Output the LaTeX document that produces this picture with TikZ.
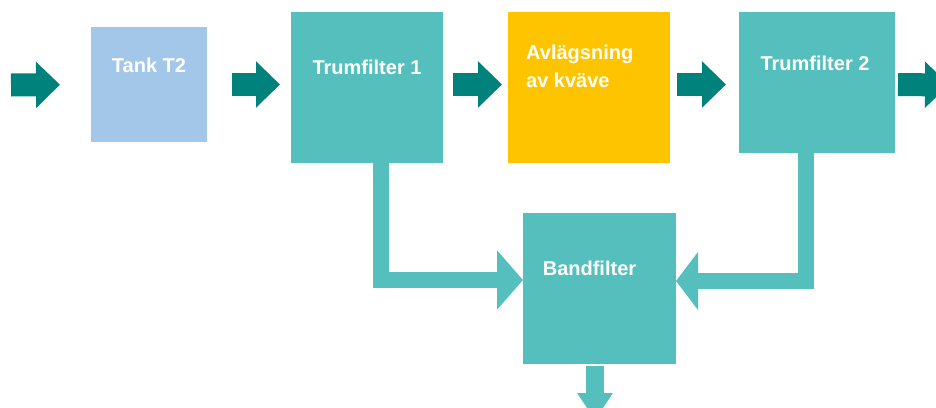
\documentclass[tikz,border=0pt]{standalone}
\usepackage{fontspec}
\setmainfont{Liberation Sans}
\usepackage{tikz}
\usetikzlibrary{arrows.meta}
\definecolor{turkos}{HTML}{55BFBD}
\definecolor{morkturkos}{HTML}{00827C}
\definecolor{ljusbla}{HTML}{A3C7E8}
\definecolor{gul}{HTML}{FFC400}

\begin{document}
\begin{tikzpicture}[x=1pt, y=-1pt,
  box/.style={rectangle, inner sep=0pt, outer sep=0pt},
  txt/.style={text=white, font=\bfseries\fontsize{20}{28}\selectfont, inner sep=0pt},
  flow/.style={draw=morkturkos, line width=23pt, -{Triangle[width=45pt,length=24pt]}},
  retur/.style={draw=turkos, line width=16pt, -{Triangle[width=58pt,length=26pt]}}]
  \clip (0,0) rectangle (936,407);

  % Block
  \node[box, fill=ljusbla, minimum width=116pt, minimum height=115pt] (tank) at (149,84.5) {};
  \node[box, fill=turkos, minimum width=152pt, minimum height=151pt] (tf1) at (367,87.5) {};
  \node[box, fill=gul, minimum width=162pt, minimum height=151pt] (avl) at (589,87.5) {};
  \node[box, fill=turkos, minimum width=156pt, minimum height=141pt] (tf2) at (817,82.5) {};
  \node[box, fill=turkos, minimum width=153pt, minimum height=151pt] (band) at (599.5,288.5) {};

  % Texter
  \node[txt] (tanktxt) at ([yshift=-38pt]tank.north) {Tank T2};
  \node[txt] (tf1txt) at ([yshift=-55pt]tf1.north) {Trumfilter 1};
  \node[txt, align=left, anchor=north west] (avltxt) at ([xshift=18pt,yshift=-33pt]avl.north west) {Avlägsning\\av kväve};
  \node[txt] (tf2txt) at ([xshift=-2pt,yshift=-51pt]tf2.north) {Trumfilter 2};
  \node[txt] (bandtxt) at ([xshift=-10pt,yshift=-55pt]band.north) {Bandfilter};

  % Flöde
  \coordinate (in) at (11,85);
  \coordinate (ut) at (949,85);
  \draw[flow, shorten >=31pt] (in) -- (tank.west);
  \draw[flow, shorten <=25pt, shorten >=11pt] (tank.east) -- (tank.east -| tf1.west);
  \draw[flow, shorten <=10pt, shorten >=6pt] (tf1.east |- tank.east) -- (avl.west |- tank.east);
  \draw[flow, shorten <=7pt, shorten >=13pt] (avl.east |- tank.east) -- (tf2.west |- tank.east);
  \draw[flow, shorten <=3pt] (tf2.east |- tank.east) -- (ut);

  % Retur till bandfilter
  \draw[retur] ([xshift=14pt]tf1.south) |- ([yshift=8.5pt]band.west);
  \draw[retur, -{Triangle[width=57pt,length=22pt]}] ([xshift=-11pt]tf2.south) |- ([yshift=7.5pt]band.east);

  % Ut
  \coordinate (bandut) at (595,420);
  \draw[draw=turkos, line width=18pt, -{Triangle[width=34pt,length=27pt]}, shorten <=2pt] (band.south -| bandut) -- (bandut);
\end{tikzpicture}
\end{document}
